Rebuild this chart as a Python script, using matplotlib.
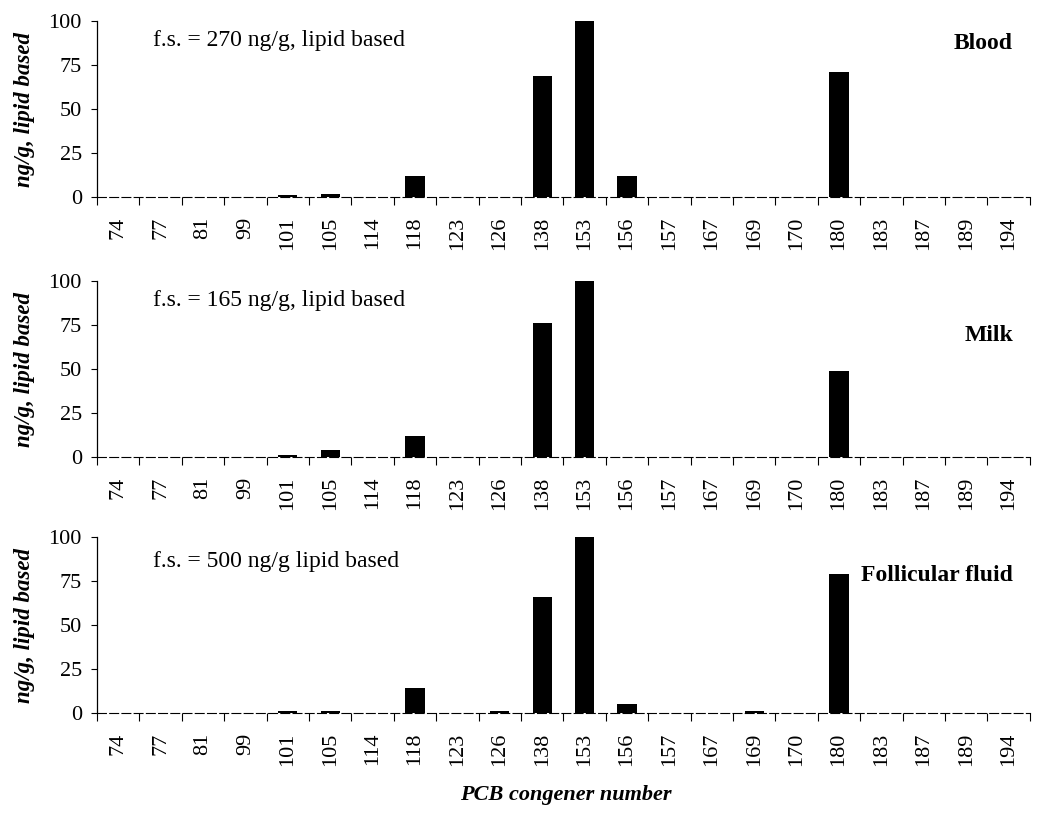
import numpy as np
import matplotlib.pyplot as plt

plt.rcParams['font.family'] = ['Liberation Serif', 'DejaVu Serif']

congeners = ['74', '77', '81', '99', '101', '105', '114', '118', '123', '126', '138',
             '153', '156', '157', '167', '169', '170', '180', '183', '187', '189', '194']

blood = [0, 0, 0, 0, 1, 2, 0, 12, 0, 0, 69, 100, 12, 0, 0, 0, 0, 71, 0, 0, 0, 0]
milk = [0, 0, 0, 0, 1, 4, 0, 12, 0, 0, 76, 100, 0, 0, 0, 0, 0, 49, 0, 0, 0, 0]
follicular = [0, 0, 0, 0, 1, 1, 0, 14, 0, 1, 66, 100, 5, 0, 0, 1, 0, 79, 0, 0, 0, 0]

panels = [
    (blood, 'Blood', 'f.s. = 270 ng/g, lipid based', 0.875, 0.89),
    (milk, 'Milk', 'f.s. = 165 ng/g, lipid based', 0.69, 0.89),
    (follicular, 'Follicular fluid', 'f.s. = 500 ng/g lipid based', 0.78, 0.86),
]

fig = plt.figure(figsize=(10.48, 8.15), dpi=100, facecolor='w')
left, width = 0.0926, 0.890
bottoms = [0.758, 0.439, 0.125]
height = 0.216

x = np.arange(len(congeners))
for (vals, name, fs, name_y, fs_y), b in zip(panels, bottoms):
    ax = fig.add_axes([left, b, width, height])
    ax.bar(x, vals, width=0.45, color='black')
    ax.set_xlim(-0.5, len(congeners) - 0.5)
    ax.set_ylim(0, 100)
    ax.set_yticks([0, 25, 50, 75, 100])
    ax.tick_params(axis='y', direction='out', length=4, width=0.8, labelsize=16, pad=7)
    # category labels between boundary ticks
    ax.set_xticks(np.arange(len(congeners) + 1) - 0.5)
    ax.set_xticklabels([])
    ax.set_xticks(x, minor=True)
    ax.set_xticklabels(congeners, minor=True, rotation=90, fontsize=16)
    ax.tick_params(axis='x', which='major', direction='out', length=6, width=0.8)
    ax.tick_params(axis='x', which='minor', length=0, pad=14)
    for sp in ('top', 'right'):
        ax.spines[sp].set_visible(False)
    ax.spines['left'].set_linewidth(0.9)
    ax.spines['bottom'].set_linewidth(0.8)
    ax.spines['bottom'].set_linestyle((0, (8, 3)))
    ax.set_ylabel('ng/g, lipid based', fontsize=16.5, fontweight='bold',
                  fontstyle='italic', labelpad=10)
    ax.text(0.06, fs_y, fs, transform=ax.transAxes, fontsize=17,
            va='center', ha='left')
    ax.text(0.982, name_y, name, transform=ax.transAxes, fontsize=17,
            fontweight='bold', va='center', ha='right')

fig.text(0.54, 0.025, 'PCB congener number', fontsize=16, fontweight='bold',
         fontstyle='italic', ha='center', va='center')

plt.savefig('out.png', dpi=100)
